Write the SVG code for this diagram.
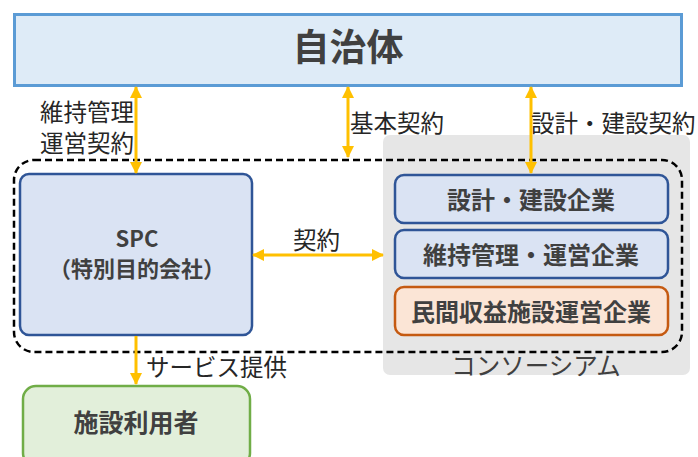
<svg xmlns="http://www.w3.org/2000/svg" width="698" height="457" viewBox="0 0 698 457">
<defs>
<style>
text{font-family:"Noto Sans CJK JP","Noto Sans",sans-serif;dominant-baseline:central;}
.b{font-weight:bold;fill:#404040;text-anchor:middle;}
.l{fill:#262626;font-size:23.5px;}
.conn line{stroke:#ffc000;stroke-width:3;}
</style>
<marker id="ah" viewBox="0 0 12 12" refX="11" refY="6" markerWidth="12" markerHeight="12" markerUnits="userSpaceOnUse" orient="auto-start-reverse">
<path d="M0,0 L12,6 L0,12 Z" fill="#ffc000"/>
</marker>
</defs>
<rect width="698" height="457" fill="#ffffff"/>
<g id="consortium">
<rect x="383" y="135" width="307" height="240" rx="7" fill="#e6e6e6"/>
<text x="536" y="364" font-size="24.5" fill="#404040" text-anchor="middle">コンソーシアム</text>
</g>
<g id="group-border">
<rect x="14" y="160" width="668" height="192" rx="20" fill="none" stroke="#000" stroke-width="2.5" stroke-dasharray="7 4"/>
</g>
<g id="jichitai">
<rect x="14.5" y="14.5" width="667" height="71" fill="#deebf7" stroke="#5b9bd5" stroke-width="3"/>
<text class="b" x="348" y="45" font-size="37">自治体</text>
</g>
<g id="spc">
<rect x="20" y="174" width="232" height="161" rx="9" fill="#dae3f3" stroke="#2f5597" stroke-width="2.5"/>
<text class="b" x="137" y="237" font-size="22">SPC</text>
<text class="b" x="137" y="267" font-size="22">（特別目的会社）</text>
</g>
<g id="design">
<rect x="395" y="175" width="273" height="48" rx="9" fill="#dae3f3" stroke="#2f5597" stroke-width="2.5"/>
<text class="b" x="531" y="198" font-size="24">設計・建設企業</text>
</g>
<g id="maintenance">
<rect x="395" y="230" width="273" height="48" rx="9" fill="#dae3f3" stroke="#2f5597" stroke-width="2.5"/>
<text class="b" x="531" y="253" font-size="24">維持管理・運営企業</text>
</g>
<g id="private">
<rect x="395" y="287" width="273" height="48" rx="9" fill="#fbe5d6" stroke="#c55a11" stroke-width="2.5"/>
<text class="b" x="531" y="310" font-size="24">民間収益施設運営企業</text>
</g>
<g id="users">
<rect x="23" y="386" width="227" height="80" rx="13" fill="#e2efda" stroke="#70ad47" stroke-width="2.5"/>
<text class="b" x="136" y="421" font-size="25">施設利用者</text>
</g>
<g id="connectors" class="conn">
<line x1="136" y1="87" x2="136" y2="173" marker-start="url(#ah)" marker-end="url(#ah)"/>
<line x1="348" y1="87" x2="348" y2="157" marker-start="url(#ah)" marker-end="url(#ah)"/>
<line x1="531" y1="87" x2="531" y2="173" marker-start="url(#ah)" marker-end="url(#ah)"/>
<line x1="253" y1="255" x2="383" y2="255" marker-start="url(#ah)" marker-end="url(#ah)"/>
<line x1="136" y1="336" x2="136" y2="384" marker-end="url(#ah)"/>
</g>
<g id="labels">
<text class="l" x="40" y="111">維持管理</text>
<text class="l" x="40" y="142">運営契約</text>
<text class="l" x="350" y="122">基本契約</text>
<text class="l" x="531" y="122">設計・建設契約</text>
<text class="l" x="293" y="239">契約</text>
<text class="l" x="146" y="366">サービス提供</text>
</g>
</svg>
